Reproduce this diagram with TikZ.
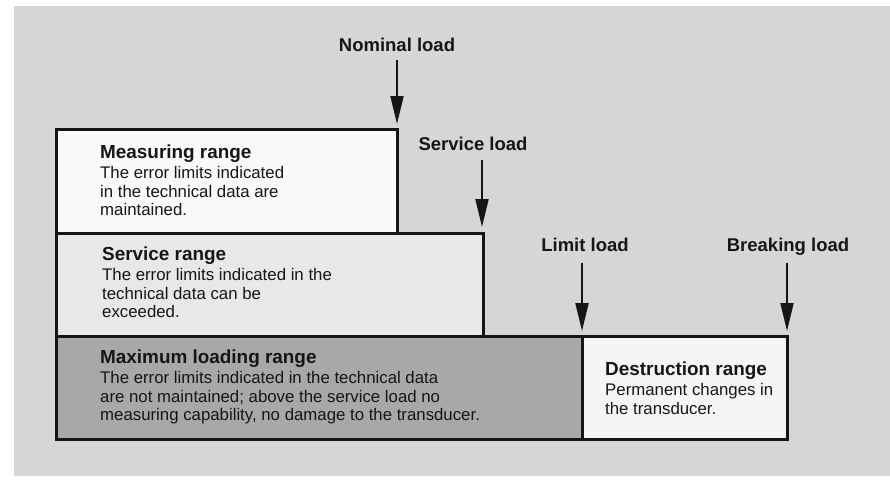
\documentclass[tikz,border=0pt]{standalone}
\usepackage{fontspec}
\setmainfont{Liberation Sans}
\usetikzlibrary{arrows.meta}
\definecolor{paper}{RGB}{214,214,214}
\definecolor{lightfill}{RGB}{250,250,250}
\definecolor{servfill}{RGB}{232,232,232}
\definecolor{maxfill}{RGB}{168,168,168}
\definecolor{destfill}{RGB}{245,245,245}
\definecolor{ink}{RGB}{22,22,22}
\newcommand{\headf}{\fontsize{18.9}{18.9}\selectfont\bfseries}
\newcommand{\loadf}{\fontsize{18.5}{18.5}\selectfont\bfseries}
\newcommand{\bodyf}{\fontsize{16.8}{18.3}\selectfont}
\newcommand{\rangetext}[2]{\vtop{\baselineskip=18.4pt\lineskiplimit=-20pt\hbox{\headf #1}\vskip 2.6pt #2}}
\begin{document}
\begin{tikzpicture}[x=1pt,y=-1pt,
  rangebox/.style={draw=ink,line width=3pt,line join=miter},
  rangelabel/.style={anchor=base west,inner sep=0pt,text=ink,align=left},
  loadlabel/.style={anchor=base,inner sep=0pt,text=ink,font=\loadf},
  loadarrow/.style={draw=ink,line width=2pt,-{Triangle[length=28pt,width=13pt]}}]
\useasboundingbox (0,0) rectangle (890,479);
\fill[white] (0,0) rectangle (890,479);
\fill[paper] (14,6) rectangle (890,476);
% boxes
\draw[rangebox,fill=lightfill] (56,129) rectangle (397,233);
\draw[rangebox,fill=servfill] (56,233) rectangle (483,336);
\draw[rangebox,fill=maxfill] (56,336) rectangle (582,439);
\draw[rangebox,fill=destfill] (582,336) rectangle (787,439);
% range texts
\node[rangelabel] (t1) at (100,158) {\rangetext{Measuring range}{\bodyf\hbox{The error limits indicated}\hbox{in the technical data are}\hbox{maintained.}}};
\node[rangelabel] (t2) at (102,260) {\rangetext{Service range}{\bodyf\hbox{The error limits indicated in the}\hbox{technical data can be}\hbox{exceeded.}}};
\node[rangelabel] (t3) at (100,363) {\rangetext{Maximum loading range}{\bodyf\hbox{The error limits indicated in the technical data}\hbox{are not maintained; above the service load no}\hbox{measuring capability, no damage to the transducer.}}};
\node[rangelabel] (t4) at (605,375) {\rangetext{Destruction range}{\bodyf\hbox{Permanent changes in}\hbox{the transducer.}}};
% load labels
\node[loadlabel] (nl) at (397,51) {Nominal load};
\node[loadlabel] (sl) at (473,150) {Service load};
\node[loadlabel] (ll) at (585,251) {Limit load};
\node[loadlabel] (bl) at (788,251) {Breaking load};
\coordinate (na) at (397,60);
\coordinate (nt) at (397,124);
\coordinate (sa) at (482,160);
\coordinate (st) at (482,227);
\coordinate (la) at (582,263);
\coordinate (lt) at (582,331);
\coordinate (ba) at (787,263);
\coordinate (bt) at (787,331);
\draw[loadarrow] (na) -- (nt);
\draw[loadarrow] (sa) -- (st);
\draw[loadarrow] (la) -- (lt);
\draw[loadarrow] (ba) -- (bt);
\end{tikzpicture}
\end{document}
